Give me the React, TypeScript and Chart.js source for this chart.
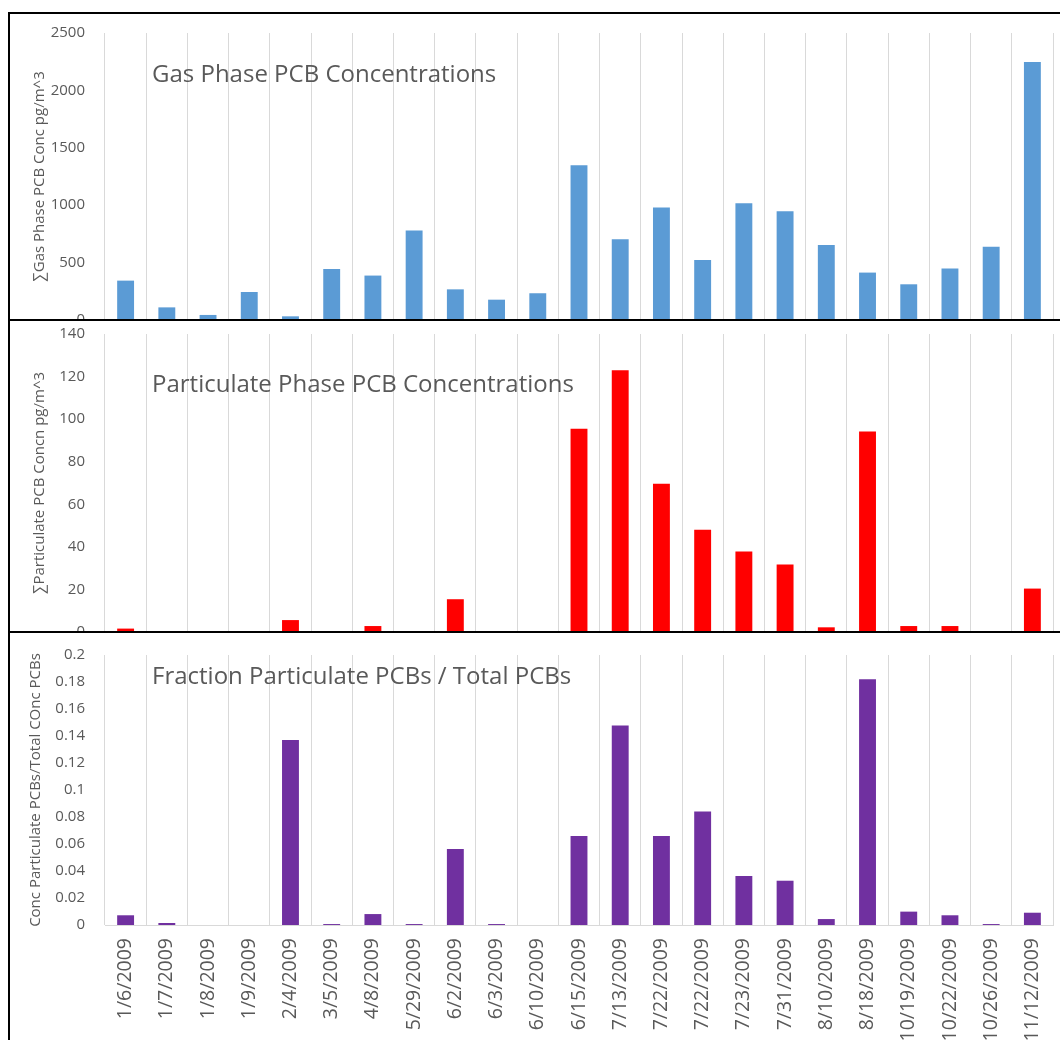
import React, { useEffect, useRef } from "react";
import { Chart, registerables } from "chart.js";

Chart.register(...registerables);

const categories = [
  "1/6/2009", "1/7/2009", "1/8/2009", "1/9/2009", "2/4/2009", "3/5/2009",
  "4/8/2009", "5/29/2009", "6/2/2009", "6/3/2009", "6/10/2009", "6/15/2009",
  "7/13/2009", "7/22/2009", "7/22/2009", "7/23/2009", "7/31/2009", "8/10/2009",
  "8/18/2009", "10/19/2009", "10/22/2009", "10/26/2009", "11/12/2009",
];

const gasValues = [
  343, 110, 44, 244, 32, 445, 387, 779, 267, 177, 233, 1349,
  703, 980, 523, 1017, 948, 654, 413, 311, 448, 637, 2247,
];

const particulateValues = [
  1.6, 0, 0, 0, 5.6, 0, 2.8, 0, 15.4, 0, 0, 95.5,
  123, 69.6, 48, 37.8, 31.7, 2.2, 94.2, 2.8, 2.8, 0, 20.4,
];

const fractionValues = [
  0.0072, 0.0015, 0, 0, 0.137, 0.0007, 0.0081, 0.0007, 0.0563, 0.0007, 0, 0.066,
  0.1477, 0.066, 0.084, 0.0363, 0.0328, 0.0044, 0.182, 0.0099, 0.0072, 0.0007, 0.0091,
];

const gasTicks = [0, 500, 1000, 1500, 2000, 2500];
const particulateTicks = [0, 20, 40, 60, 80, 100, 120, 140];
const fractionTicks = [0, 0.02, 0.04, 0.06, 0.08, 0.1, 0.12, 0.14, 0.16, 0.18, 0.2];

const TEXT = "#595959";
const GRID = "#d9d9d9";
const FONT = "'Open Sans', 'DejaVu Sans', sans-serif";

const plotTitlePlugin = {
  id: "plotTitle",
  afterDraw(chart: any, _args: any, opts: any) {
    if (!opts || !opts.text) return;
    const { ctx, chartArea } = chart;
    ctx.save();
    ctx.font = `${opts.size}px ${FONT}`;
    ctx.fillStyle = TEXT;
    ctx.textBaseline = "middle";
    ctx.textAlign = "left";
    ctx.fillText(opts.text, chartArea.left + opts.dx, chartArea.top + opts.dy);
    ctx.restore();
  },
};

type Spec = {
  values: number[];
  ticks: number[];
  color: string;
  yTitle: string;
  plotTitle: string;
  titleDy: number;
  titlePad: number;
  top: number;
  boxHeight: number;
  canvasHeight: number;
  padTop: number;
  padBottom: number;
  xHeight: number;
  showX: boolean;
  z: number;
};

const CANVAS_W = 1080;
const PAD_RIGHT = 37;

function buildConfig(spec: Spec): any {
  const max = spec.ticks[spec.ticks.length - 1];
  return {
    type: "bar",
    data: {
      labels: categories,
      datasets: [
        {
          data: spec.values,
          backgroundColor: spec.color,
          borderWidth: 0,
          barPercentage: 0.41,
          categoryPercentage: 1,
        },
      ],
    },
    options: {
      responsive: false,
      animation: false,
      devicePixelRatio: 1,
      layout: { padding: { top: spec.padTop, bottom: spec.padBottom, left: 0, right: PAD_RIGHT } },
      plugins: {
        legend: { display: false },
        tooltip: { enabled: false },
        plotTitle: { text: spec.plotTitle, dx: 47, dy: spec.titleDy, size: 24 },
      },
      scales: {
        x: {
          grid: { color: GRID, lineWidth: 1, drawTicks: false, offset: true },
          border: { display: spec.showX, color: GRID },
          ticks: {
            display: spec.showX,
            autoSkip: false,
            maxRotation: 90,
            minRotation: 90,
            padding: 13,
            color: TEXT,
            font: { family: FONT, size: 19.5 },
          },
          afterFit: (s: any) => {
            s.height = spec.xHeight;
          },
        },
        y: {
          min: 0,
          max,
          grid: { display: false, drawTicks: true, tickLength: 20 },
          border: { display: false },
          ticks: {
            color: TEXT,
            padding: 0,
            font: { family: FONT, size: 15 },
            callback: (v: any) => String(v),
          },
          afterBuildTicks: (s: any) => {
            s.ticks = spec.ticks.map((v) => ({ value: v }));
          },
          afterFit: (s: any) => {
            s.width = 95;
          },
          title: {
            display: true,
            text: spec.yTitle,
            color: TEXT,
            font: { family: FONT, size: 15 },
            padding: { top: spec.titlePad, bottom: 0 },
          },
        },
      },
    },
    plugins: [plotTitlePlugin],
  };
}

function Panel({ spec }: { spec: Spec }) {
  const ref = useRef<HTMLCanvasElement>(null);
  useEffect(() => {
    if (!ref.current) return;
    const chart = new Chart(ref.current, buildConfig(spec));
    return () => chart.destroy();
  }, []);
  return (
    <div
      style={{
        position: "absolute",
        left: 8,
        top: spec.top,
        width: 1060,
        height: spec.boxHeight,
        borderTop: "2px solid #000",
        borderLeft: "2px solid #000",
        background: "#fff",
        boxSizing: "border-box",
        zIndex: spec.z,
      }}
    >
      <canvas
        ref={ref}
        width={CANVAS_W}
        height={spec.canvasHeight}
        style={{ position: "absolute", left: 0, top: 0, width: CANVAS_W, height: spec.canvasHeight }}
      />
    </div>
  );
}

const gasSpec: Spec = {
  values: gasValues,
  ticks: gasTicks,
  color: "#5B9BD5",
  yTitle: "\u2211Gas Phase PCB Conc pg/m^3",
  plotTitle: "Gas Phase PCB Concentrations",
  titleDy: 42,
  titlePad: 21,
  top: 12,
  boxHeight: 340,
  canvasHeight: 326,
  padTop: 19,
  padBottom: 20,
  xHeight: 0,
  showX: false,
  z: 1,
};

const particulateSpec: Spec = {
  values: particulateValues,
  ticks: particulateTicks,
  color: "#FF0000",
  yTitle: "\u2211Particulate PCB Concn pg/m^3",
  plotTitle: "Particulate Phase PCB Concentrations",
  titleDy: 51,
  titlePad: 21,
  top: 319,
  boxHeight: 345,
  canvasHeight: 331,
  padTop: 13,
  padBottom: 20,
  xHeight: 0,
  showX: false,
  z: 2,
};

const fractionSpec: Spec = {
  values: fractionValues,
  ticks: fractionTicks,
  color: "#7030A0",
  yTitle: "Conc Particulate PCBs/Total COnc PCBs",
  plotTitle: "Fraction Particulate PCBs / Total PCBs",
  titleDy: 22,
  titlePad: 17,
  top: 631,
  boxHeight: 420,
  canvasHeight: 412,
  padTop: 22,
  padBottom: 0,
  xHeight: 120,
  showX: true,
  z: 3,
};

export default function App() {
  return (
    <div
      style={{
        position: "absolute",
        left: 0,
        top: 0,
        width: 1060,
        height: 1040,
        overflow: "hidden",
        background: "#fff",
      }}
    >
      <Panel spec={gasSpec} />
      <Panel spec={particulateSpec} />
      <Panel spec={fractionSpec} />
    </div>
  );
}
